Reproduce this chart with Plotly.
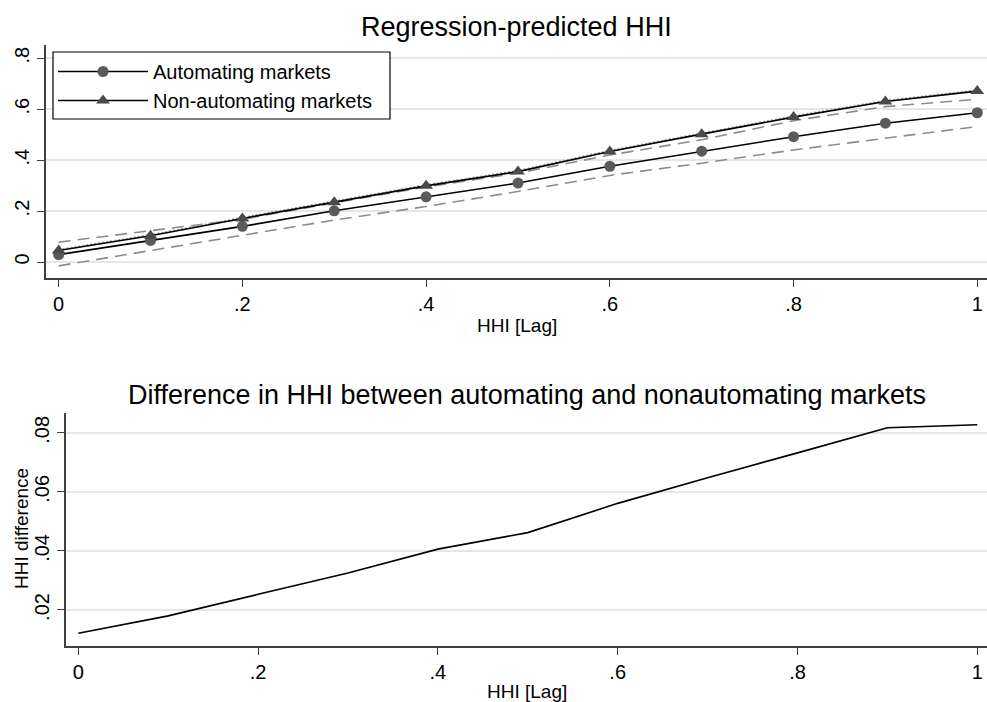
import plotly.graph_objects as go

# HHI lag grid used for the predictions
hhi_lag = [0.0, 0.1, 0.2, 0.3, 0.4, 0.5, 0.6, 0.7, 0.8, 0.9, 1.0]

# Regression-predicted HHI
automating = [0.029, 0.085, 0.140, 0.201, 0.256, 0.310, 0.376, 0.435, 0.492, 0.545, 0.586]
non_automating = [0.045, 0.103, 0.171, 0.235, 0.299, 0.355, 0.434, 0.502, 0.569, 0.630, 0.671]
auto_ci_upper = [0.078, 0.122, 0.168, 0.232, 0.295, 0.349, 0.420, 0.480, 0.555, 0.610, 0.639]
auto_ci_lower = [-0.015, 0.045, 0.107, 0.165, 0.218, 0.277, 0.340, 0.388, 0.440, 0.486, 0.532]
non_auto_band = [0.049, 0.107, 0.175, 0.239, 0.303, 0.359, 0.438, 0.506, 0.573, 0.634, 0.675]

# Difference between automating and non-automating markets
hhi_difference = [0.0121, 0.0180, 0.0253, 0.0325, 0.0406, 0.0462, 0.0561, 0.0648, 0.0732, 0.0817, 0.0827]

# Tick labels
x_ticks = [0, 0.2, 0.4, 0.6, 0.8, 1.0]
x_tick_text = ["0", ".2", ".4", ".6", ".8", "1"]
y1_ticks = [0, 0.2, 0.4, 0.6, 0.8]
y1_tick_text = ["0", ".2", ".4", ".6", ".8"]
y2_ticks = [0.02, 0.04, 0.06, 0.08]
y2_tick_text = [".02", ".04", ".06", ".08"]

FONT = "Liberation Sans, Arial, Helvetica, sans-serif"
W, H = 987, 702

fig = go.Figure()

# upper panel
fig.add_trace(go.Scatter(x=hhi_lag, y=auto_ci_upper, mode="lines", showlegend=False,
                         line=dict(color="#8c8c8c", width=1.6, dash="12px,7px"),
                         xaxis="x", yaxis="y", hoverinfo="skip"))
fig.add_trace(go.Scatter(x=hhi_lag, y=auto_ci_lower, mode="lines", showlegend=False,
                         line=dict(color="#8c8c8c", width=1.6, dash="12px,7px"),
                         xaxis="x", yaxis="y", hoverinfo="skip"))
fig.add_trace(go.Scatter(x=hhi_lag, y=non_auto_band, mode="lines", showlegend=False,
                         line=dict(color="#9a9a9a", width=1.5, dash="2px,2px"),
                         xaxis="x", yaxis="y", hoverinfo="skip"))
fig.add_trace(go.Scatter(x=hhi_lag, y=automating, mode="lines+markers",
                         name="Automating markets",
                         line=dict(color="black", width=1.6),
                         marker=dict(symbol="circle", size=11, color="#5a5a5a"),
                         xaxis="x", yaxis="y"))
fig.add_trace(go.Scatter(x=hhi_lag, y=non_automating, mode="lines+markers",
                         name="Non-automating markets",
                         line=dict(color="black", width=1.6),
                         marker=dict(symbol="triangle-up", size=12, color="#4a4a4a"),
                         xaxis="x", yaxis="y"))

# lower panel
fig.add_trace(go.Scatter(x=hhi_lag, y=hhi_difference, mode="lines", showlegend=False,
                         line=dict(color="black", width=1.6),
                         xaxis="x2", yaxis="y2"))

axis_common = dict(showline=True, linecolor="#404040", linewidth=1.5,
                   ticks="outside", ticklen=7, tickwidth=1.2, tickcolor="#404040",
                   tickfont=dict(family=FONT, size=20, color="black"),
                   zeroline=False)

fig.update_layout(
    width=W, height=H,
    margin=dict(l=0, r=0, t=0, b=0),
    paper_bgcolor="white", plot_bgcolor="white",
    font=dict(family=FONT, color="black"),
    xaxis=dict(domain=[46 / W, 1.0], range=[-0.0138, 1.0106],
               tickvals=x_ticks, ticktext=x_tick_text, showgrid=False,
               anchor="y", **axis_common),
    yaxis=dict(domain=[1 - 278 / H, 1 - 45 / H], range=[-0.0627, 0.852],
               tickvals=y1_ticks, ticktext=y1_tick_text, tickangle=-90,
               showgrid=True, gridcolor="#e6e6e6", gridwidth=1.5,
               anchor="x", **axis_common),
    xaxis2=dict(domain=[66 / W, 1.0], range=[-0.0137, 1.0108],
                tickvals=x_ticks, ticktext=x_tick_text, showgrid=False,
                anchor="y2", **axis_common),
    yaxis2=dict(domain=[1 - 646 / H, 1 - 412.7 / H], range=[0.0078, 0.0868],
                tickvals=y2_ticks, ticktext=y2_tick_text, tickangle=-90,
                showgrid=True, gridcolor="#e6e6e6", gridwidth=1.5,
                anchor="x2", **axis_common),
    legend=dict(x=53 / W, y=1 - 52 / H, xanchor="left", yanchor="top",
                bgcolor="rgba(0,0,0,0)", borderwidth=0,
                font=dict(family=FONT, size=20, color="black"),
                itemwidth=90, traceorder="normal"),
    showlegend=True,
    # legend frame
    shapes=[dict(type="rect", xref="paper", yref="paper",
                 x0=53 / W, x1=390 / W, y0=1 - 119 / H, y1=1 - 52 / H,
                 line=dict(color="black", width=1.2), fillcolor="white",
                 layer="above")],
)

annotations = [
    dict(text="Regression-predicted HHI", x=(46 + 987) / 2 / W, y=1 - 27 / H,
         font=dict(size=27)),
    dict(text="HHI [Lag]", x=(46 + 987) / 2 / W, y=1 - 325 / H, font=dict(size=19)),
    dict(text="Difference in HHI between automating and nonautomating markets",
         x=(66 + 987) / 2 / W, y=1 - 395 / H, font=dict(size=27)),
    dict(text="HHI [Lag]", x=(66 + 987) / 2 / W, y=1 - 691 / H, font=dict(size=19)),
    dict(text="HHI difference", x=21 / W, y=1 - 529 / H, textangle=-90,
         font=dict(size=19)),
]
for a in annotations:
    a.update(xref="paper", yref="paper", showarrow=False, xanchor="center",
             yanchor="middle")
    a["font"]["family"] = FONT
    a["font"]["color"] = "black"
fig.update_layout(annotations=annotations)

fig.write_html("out.html")
